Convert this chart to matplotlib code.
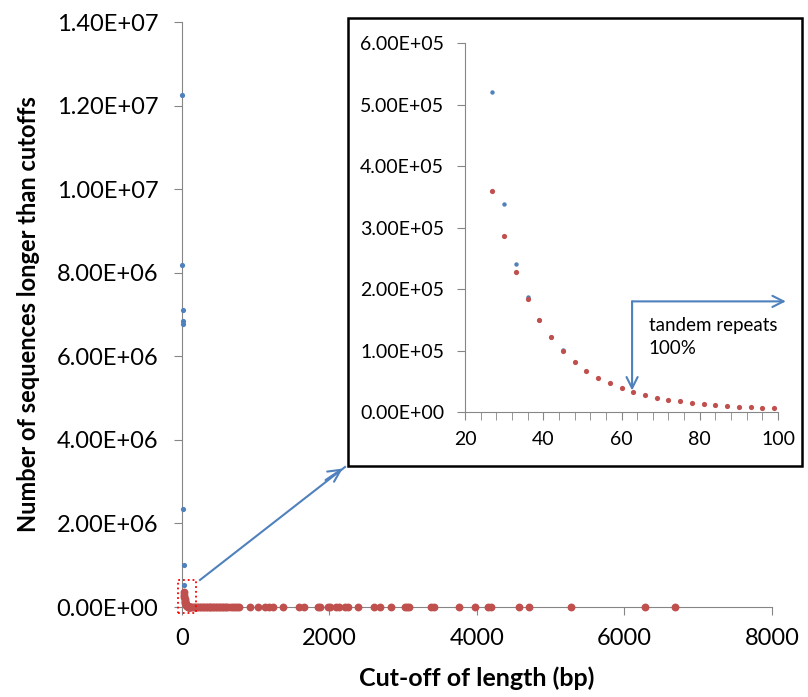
import numpy as np
import matplotlib.pyplot as plt
from matplotlib.patches import Rectangle
from matplotlib.ticker import FuncFormatter, MultipleLocator

plt.rcParams['font.family'] = ['Lato', 'DejaVu Sans']

# blue series: all sequences (only the short cut-offs are visible)
blue_x = [3, 6, 9, 12, 15, 18, 21, 27, 30, 33, 36, 39, 42, 45]
blue_y = [1.225e7, 8.18e6, 7.10e6, 6.84e6, 6.77e6, 2.35e6, 1.00e6,
          5.20e5, 3.39e5, 2.415e5, 1.87e5, 1.50e5, 1.22e5, 1.004e5]

# red series: tandem repeats
red_x = [27, 30, 33, 36, 39, 42, 45, 48, 51, 54, 57, 60, 63, 66, 69, 72, 75,
         78, 81, 84, 87, 90, 93, 96, 99,
         110, 125, 140, 160, 180, 200, 220, 240, 260, 280, 300, 320, 340, 360,
         380, 400, 420, 440, 460, 480, 500, 520, 540, 560, 580, 600, 630, 660,
         690, 720, 750, 770,
         917, 1035, 1120, 1176, 1233, 1367, 1592, 1655, 1840, 1874, 1975, 2003,
         2093, 2133, 2212, 2246, 2381, 2605, 2684, 2836, 3022, 3055, 3078, 3376,
         3416, 3753, 3978, 4147, 4186, 4573, 4709, 5272, 6273, 6690]
red_y = [3.59e5, 2.86e5, 2.28e5, 1.84e5, 1.49e5, 1.22e5, 9.9e4, 8.2e4, 6.7e4,
         5.6e4, 4.7e4, 3.85e4, 3.26e4, 2.7e4, 2.28e4, 2.0e4, 1.74e4, 1.41e4,
         1.25e4, 1.09e4, 9.8e3, 8.7e3, 8.7e3, 7.1e3, 7.1e3,
         6000, 5200, 4600, 4000, 3500, 3100, 2800, 2500, 2200, 2000, 1800, 1650,
         1500, 1380, 1260, 1150, 1060, 980, 900, 830, 770, 710, 660, 610, 570,
         530, 480, 440, 400, 370, 340, 320,
         250, 210, 180, 170, 160, 130, 100, 95, 80, 78, 70, 68, 62, 60, 56, 55,
         50, 42, 40, 36, 32, 31, 30, 25, 24, 20, 18, 16, 15, 12, 11, 8, 4, 3]

blue = '#4F81BD'
red = '#C0504D'
grey = '#868686'
sci = FuncFormatter(lambda v, p: f'{v:.2E}')

fig = plt.figure(figsize=(8.08, 6.97), dpi=100)

# main chart
ax = fig.add_axes([0.2252, 0.1291, 0.7302, 0.8393])
ax.scatter(blue_x, blue_y, s=14, color=blue, zorder=3, clip_on=False, linewidths=0)
ax.scatter(red_x, red_y, s=32, color=red, zorder=4, clip_on=False, linewidths=0)
ax.set_xlim(0, 8000)
ax.set_ylim(0, 1.4e7)
ax.set_xticks([0, 2000, 4000, 6000, 8000])
ax.set_yticks(np.arange(0, 1.41e7, 2e6))
ax.yaxis.set_major_formatter(sci)
for s in ['top', 'right']:
    ax.spines[s].set_visible(False)
for s in ['left', 'bottom']:
    ax.spines[s].set_color(grey)
ax.tick_params(colors=grey, labelcolor='black', labelsize=17, length=6,
               direction='out')
ax.tick_params(axis='x', pad=9)
ax.tick_params(axis='y', pad=11)
ax.set_xlabel('Cut-off of length (bp)', fontsize=18, fontweight='bold', labelpad=13)
ax.set_ylabel('Number of sequences longer than cutoffs', fontsize=17,
              fontweight='bold', labelpad=12)

# dotted box around the zoomed region
ax.add_patch(Rectangle((-60, -1.5e5), 250, 8e5, fill=False, edgecolor='red',
                       linestyle=':', linewidth=1.3, clip_on=False, zorder=5))

# arrow from the box to the inset
fig.add_artist(plt.Line2D([0.2475, 0.427], [0.1679, 0.330], color=blue, lw=1.5))
ax.annotate('', xy=(0.427, 0.330), xytext=(0.40, 0.309),
            xycoords='figure fraction', textcoords='figure fraction',
            arrowprops=dict(arrowstyle='->', color=blue, lw=1.5,
                            mutation_scale=22))

# inset frame
fig.add_artist(Rectangle((0.4307, 0.3314), 0.5619, 0.6428,
                         transform=fig.transFigure, facecolor='white',
                         edgecolor='black', linewidth=1.8, zorder=6))

ins = fig.add_axes([0.5755, 0.4089, 0.3874, 0.529], zorder=7)
ins.patch.set_alpha(0)
ins.scatter(blue_x, blue_y, s=10, color=blue, zorder=3, linewidths=0)
ins.scatter(red_x, red_y, s=14, color=red, zorder=4, linewidths=0)
ins.set_xlim(20, 100)
ins.set_ylim(0, 6e5)
ins.set_xticks([20, 40, 60, 80, 100])
ins.xaxis.set_minor_locator(MultipleLocator(4))
ins.set_yticks(np.arange(0, 6.01e5, 1e5))
ins.yaxis.set_major_formatter(sci)
for s in ['top', 'right']:
    ins.spines[s].set_visible(False)
for s in ['left', 'bottom']:
    ins.spines[s].set_color(grey)
ins.tick_params(which='both', colors=grey, labelcolor='black', labelsize=14,
                length=6, direction='out')
ins.tick_params(axis='x', pad=8)
ins.tick_params(axis='y', pad=9)

# tandem repeats marker
ins.annotate('', xy=(62.7, 3.5e4), xytext=(62.7, 1.8e5),
             arrowprops=dict(arrowstyle='->', color=blue, lw=1.5,
                             mutation_scale=20, shrinkA=0, shrinkB=0),
             annotation_clip=False)
ins.annotate('', xy=(102, 1.8e5), xytext=(62.7, 1.8e5),
             arrowprops=dict(arrowstyle='->', color=blue, lw=1.5,
                             mutation_scale=20, shrinkA=0, shrinkB=0),
             annotation_clip=False)
ins.text(67, 1.22e5, 'tandem repeats\n100%', fontsize=13.5, va='center',
         ha='left', linespacing=1.4)

fig.savefig('out.png', dpi=100)
